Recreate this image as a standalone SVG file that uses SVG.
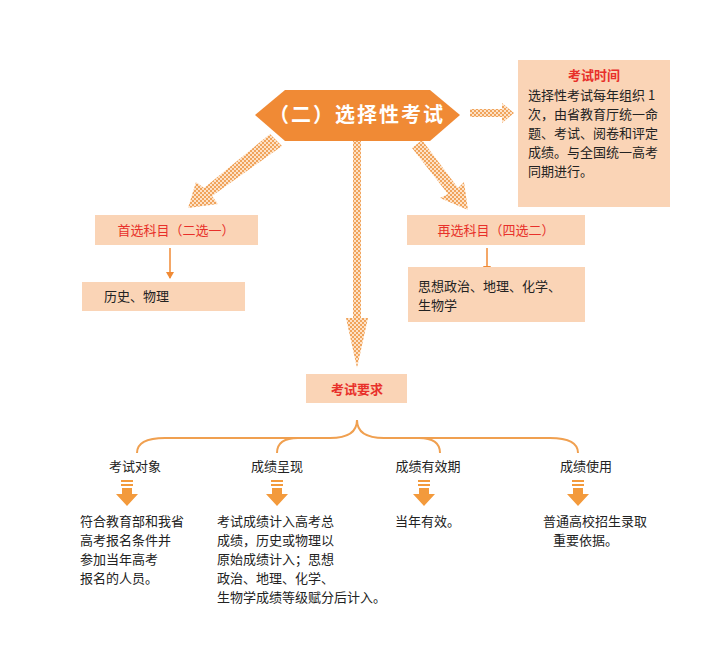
<svg xmlns="http://www.w3.org/2000/svg" width="713" height="663" viewBox="0 0 713 663">
<defs>
<pattern id="chk" width="4" height="4" patternUnits="userSpaceOnUse">
<rect width="4" height="4" fill="#fde2c8"/><rect width="2" height="2" fill="#f0a45c"/><rect x="2" y="2" width="2" height="2" fill="#f0a45c"/>
</pattern>
<marker id="ah" markerWidth="8" markerHeight="8" refX="6" refY="4" orient="auto" markerUnits="userSpaceOnUse"><path d="M0,0 L7,4 L0,8 Z" fill="#f08a35"/></marker>
</defs>
<style>
text{font-family:"Noto Sans CJK SC","Liberation Serif",serif;fill:#222;font-size:13px}
.box{fill:#fad4b6}
.red{fill:#e8302a;font-weight:bold}
.br{fill:none;stroke:#f0a050;stroke-width:2}
.fat{fill:#f39a3c}
</style>
<rect width="713" height="663" fill="#fff"/>
<g id="connectors">
<path fill="url(#chk)" d="M270,134 L282,146 L212,196 L218,204 L188,208 L196,182 L204,188 Z"/>
<path fill="url(#chk)" d="M353,141 L361,141 L361,318 L368,318 L357,368 L346,318 L353,318 Z"/>
<path fill="url(#chk)" d="M412,148 L422,140 L458,188 L464,182 L468,210 L440,198 L448,194 Z"/>
<path fill="url(#chk)" d="M470,109 L502,109 L502,103 L514,113 L502,123 L502,117 L470,117 Z"/>
<line x1="170" y1="248" x2="170" y2="278" stroke="#f08a35" stroke-width="1.5" marker-end="url(#ah)"/>
<line x1="487" y1="248" x2="487" y2="272" stroke="#f08a35" stroke-width="1.5" marker-end="url(#ah)"/>
<path class="br" d="M137,453 Q137,438 165,438 L330,438 Q357,438 357,420 Q357,438 384,438 L550,438 Q578,438 578,453"/>
<path class="br" d="M277,453 Q277,438 298,438"/>
<path class="br" d="M440,453 Q440,438 419,438"/>
<g class="fat">
<rect x="121" y="480" width="12" height="2"/><rect x="121" y="484" width="12" height="2"/><path d="M122,488 L132,488 L132,494 L138,494 L127,506 L116,494 L122,494 Z"/>
<rect x="271" y="480" width="12" height="2"/><rect x="271" y="484" width="12" height="2"/><path d="M272,488 L282,488 L282,494 L288,494 L277,506 L266,494 L272,494 Z"/>
<rect x="418" y="480" width="12" height="2"/><rect x="418" y="484" width="12" height="2"/><path d="M419,488 L429,488 L429,494 L435,494 L424,506 L413,494 L419,494 Z"/>
<rect x="572" y="480" width="12" height="2"/><rect x="572" y="484" width="12" height="2"/><path d="M573,488 L583,488 L583,494 L589,494 L578,506 L567,494 L573,494 Z"/>
</g>
</g>
<g id="main">
<path d="M255,115 L285,90 L430,90 L460,115 L430,141 L285,141 Z" fill="#f08a35"/>
<text x="357" y="122" text-anchor="middle" style="font-size:20px;fill:#fff;font-weight:bold;letter-spacing:2px">（二）选择性考试</text>
</g>
<g id="time">
<rect class="box" x="518" y="60" width="152" height="147"/>
<text x="594" y="80" text-anchor="middle" class="red">考试时间</text>
<text x="528" y="100">选择性考试每年组织 1</text>
<text x="528" y="119">次，由省教育厅统一命</text>
<text x="528" y="138">题、考试、阅卷和评定</text>
<text x="528" y="157">成绩。与全国统一高考</text>
<text x="528" y="176">同期进行。</text>
</g>
<g id="first">
<rect class="box" x="95" y="215" width="163" height="30"/>
<text x="176" y="235" text-anchor="middle" class="red" style="font-weight:normal">首选科目（二选一）</text>
</g>
<g id="first-sub">
<rect class="box" x="82" y="282" width="163" height="29"/>
<text x="104" y="301">历史、物理</text>
</g>
<g id="second">
<rect class="box" x="407" y="215" width="178" height="30"/>
<text x="496" y="235" text-anchor="middle" class="red" style="font-weight:normal">再选科目（四选二）</text>
</g>
<g id="second-sub">
<rect class="box" x="408" y="267" width="177" height="55"/>
<text x="418" y="291">思想政治、地理、化学、</text>
<text x="418" y="310">生物学</text>
</g>
<g id="req">
<rect class="box" x="306" y="374" width="101" height="29"/>
<text x="357" y="394" text-anchor="middle" class="red">考试要求</text>
</g>
<g id="obj">
<text x="135" y="471" text-anchor="middle">考试对象</text>
<text x="80" y="526">符合教育部和我省</text>
<text x="80" y="545">高考报名条件并</text>
<text x="80" y="564">参加当年高考</text>
<text x="80" y="583">报名的人员。</text>
</g>
<g id="score">
<text x="277" y="471" text-anchor="middle">成绩呈现</text>
<text x="217" y="526">考试成绩计入高考总</text>
<text x="217" y="545">成绩，历史或物理以</text>
<text x="217" y="564">原始成绩计入；思想</text>
<text x="217" y="583">政治、地理、化学、</text>
<text x="217" y="602">生物学成绩等级赋分后计入。</text>
</g>
<g id="valid">
<text x="428" y="471" text-anchor="middle">成绩有效期</text>
<text x="395" y="526">当年有效。</text>
</g>
<g id="use">
<text x="586" y="471" text-anchor="middle">成绩使用</text>
<text x="543" y="526">普通高校招生录取</text>
<text x="553" y="545">重要依据。</text>
</g>
</svg>
